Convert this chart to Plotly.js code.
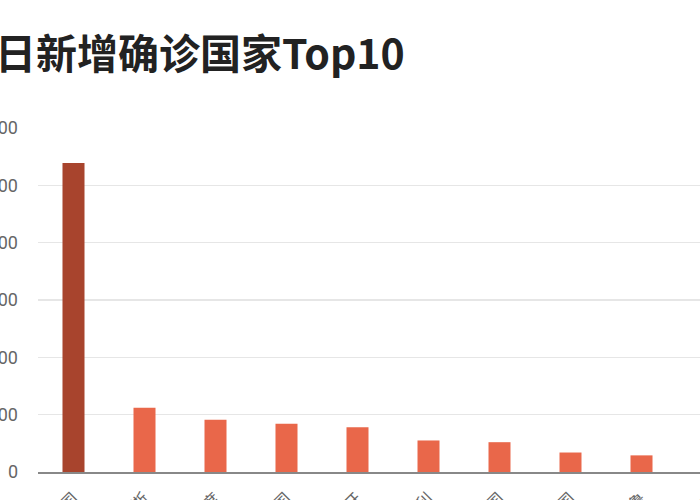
<!DOCTYPE html>
<html>
<head>
<meta charset="utf-8">
<script src="https://cdn.plot.ly/plotly-3.0.1.min.js"></script>
<style>
  html, body { margin: 0; padding: 0; width: 700px; height: 500px; overflow: hidden; background: #fff; }
  #chart { position: absolute; left: -80px; top: 0; width: 880px; height: 600px; }
</style>
</head>
<body>
<div id="chart"></div>
<script>
// yesterday's new confirmed cases, top 10 countries
const countries = ['美国', '俄罗斯', '印度', '英国', '西班牙', '意大利', '法国', '德国', '秘鲁', '哥伦比亚'];
const newCases = [53900, 11200, 9100, 8400, 7800, 5500, 5200, 3400, 2900, 2700];
const yTicks = [0, 10000, 20000, 30000, 40000, 50000, 60000];

const barColors = countries.map((c, i) => i === 0 ? '#a8442d' : '#e9674a');
const font = 'Roboto, "Noto Sans CJK SC", sans-serif';

Plotly.newPlot('chart', [{
    type: 'bar',
    x: countries,
    y: newCases,
    marker: {color: barColors},
    hoverinfo: 'x+y'
}], {
    width: 880,
    height: 600,
    margin: {l: 118, r: 52, t: 128, b: 127.5},
    paper_bgcolor: '#fff',
    plot_bgcolor: '#fff',
    bargap: 0.69,
    showlegend: false,
    title: {
        text: '<b>昨日新增确诊国家Top10</b>',
        font: {family: '"Noto Sans CJK SC", sans-serif', size: 41, color: '#222'},
        xref: 'container', x: 34 / 880, xanchor: 'left',
        yref: 'container', y: 1 - 55 / 600, yanchor: 'middle'
    },
    xaxis: {
        type: 'category',
        tickangle: -45,
        tickfont: {family: font, size: 17, color: '#666'},
        showline: true,
        linecolor: '#888',
        linewidth: 2,
        ticks: '',
        showgrid: false,
        ticklabelstandoff: 8
    },
    yaxis: {
        range: [0, 60000],
        tickvals: yTicks,
        tickformat: 'd',
        tickfont: {family: font, size: 18, color: '#666'},
        gridcolor: '#e6e6e6',
        gridwidth: 1.5,
        zeroline: false,
        showline: false,
        ticklabelstandoff: 19
    }
}, {displayModeBar: false, staticPlot: true});
</script>
</body>
</html>
